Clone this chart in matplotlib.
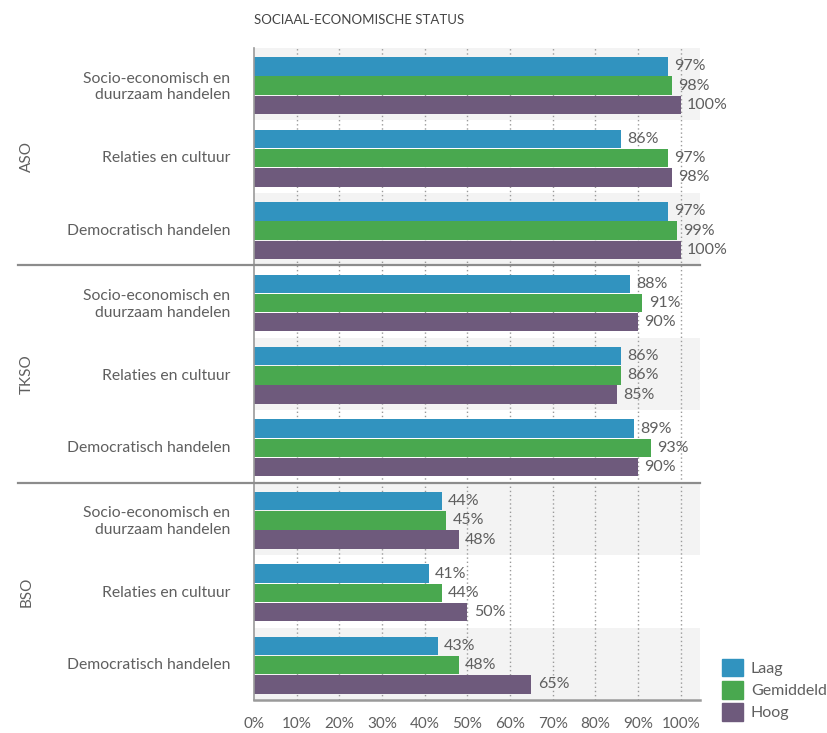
import numpy as np
import matplotlib
matplotlib.use("Agg")
import matplotlib.pyplot as plt
from matplotlib.patches import Patch

plt.rcParams['font.family'] = ['Lato', 'DejaVu Sans']

# data: share per onderwijsvorm, subdomein and sociaal-economische status
groups = ["ASO", "TKSO", "BSO"]
categories = ["Socio-economisch en\nduurzaam handelen",
              "Relaties en cultuur",
              "Democratisch handelen"]
series = ["Laag", "Gemiddeld", "Hoog"]
laag = [97, 86, 97, 88, 86, 89, 44, 41, 43]
gemiddeld = [98, 97, 99, 91, 86, 93, 45, 44, 48]
hoog = [100, 98, 100, 90, 85, 90, 48, 50, 65]
ticks = [0, 10, 20, 30, 40, 50, 60, 70, 80, 90, 100]

colors = ["#3193bf", "#49a84f", "#6e5a7c"]
txt = "#5f5f5f"

fig = plt.figure(figsize=(8.27, 7.33), dpi=100)
ax = fig.add_axes([254/827, 1 - 700/733, 446/827, 652/733])

n_rows = len(groups) * len(categories)
rows = np.arange(n_rows)

# alternating light bands behind each row
for i in rows:
    if i % 2 == 0:
        ax.axhspan(i - 0.5, i + 0.5, color="#f3f3f3", lw=0, zorder=0)

# dotted vertical gridlines
for t in ticks[1:]:
    ax.axvline(t, color="#9a9a9a", lw=1, linestyle=(0, (1, 2)), zorder=1)

h = 0.255
offsets = [-0.245, 0.02, 0.285]
for vals, off, col, name in zip([laag, gemiddeld, hoog], offsets, colors, series):
    ax.barh(rows + off, vals, height=h, color=col, zorder=2, label=name)
    for y, v in zip(rows + off, vals):
        ax.annotate(f"{v}%", (v, y), xytext=(4.5, 0), textcoords="offset points",
                    va="center", ha="left", fontsize=11.5, color=txt, zorder=3)

ax.set_xlim(0, 104.5)
ax.set_ylim(n_rows - 0.5, -0.5)

ax.set_yticks(rows)
ax.set_yticklabels(categories * len(groups), fontsize=11.3, color=txt,
                   linespacing=1.25)
ax.tick_params(axis="y", length=0, pad=17)
ax.set_xticks(ticks)
ax.set_xticklabels([f"{t}%" for t in ticks], fontsize=11, color=txt)
ax.tick_params(axis="x", length=0, pad=12)

for s in ["top", "right"]:
    ax.spines[s].set_visible(False)
ax.spines["left"].set_color("#9a9a9a")
ax.spines["left"].set_linewidth(1.2)
ax.spines["bottom"].set_color("#9a9a9a")
ax.spines["bottom"].set_linewidth(1.8)

# separators between the groups and the rotated group names
trans = ax.get_yaxis_transform()
x_left = (18 - 254) / 446
for k in range(1, len(groups)):
    yy = k * len(categories) - 0.5
    ax.plot([x_left, 1], [yy, yy], transform=trans, clip_on=False,
            color="#8c8c8c", lw=1.6, zorder=4)
for k, g in enumerate(groups):
    ax.text((27 - 254) / 446, k * len(categories) + 1, g, transform=trans,
            rotation=90, ha="center", va="center", fontsize=11, color=txt)

fig.text(254/827, 1 - 20/733, "SOCIAAL-ECONOMISCHE STATUS", fontsize=9.5,
         color="#444444", ha="left", va="center")

handles = [Patch(color=c, label=s) for c, s in zip(colors, series)]
fig.legend(handles=handles, loc="upper left", bbox_to_anchor=(722/827, 1 - 659/733),
           frameon=False, fontsize=11.5, handlelength=1.3, handleheight=1.3,
           labelspacing=0.3, handletextpad=0.5, borderpad=0, borderaxespad=0,
           labelcolor=txt)

fig.savefig("out.png", dpi=100)
